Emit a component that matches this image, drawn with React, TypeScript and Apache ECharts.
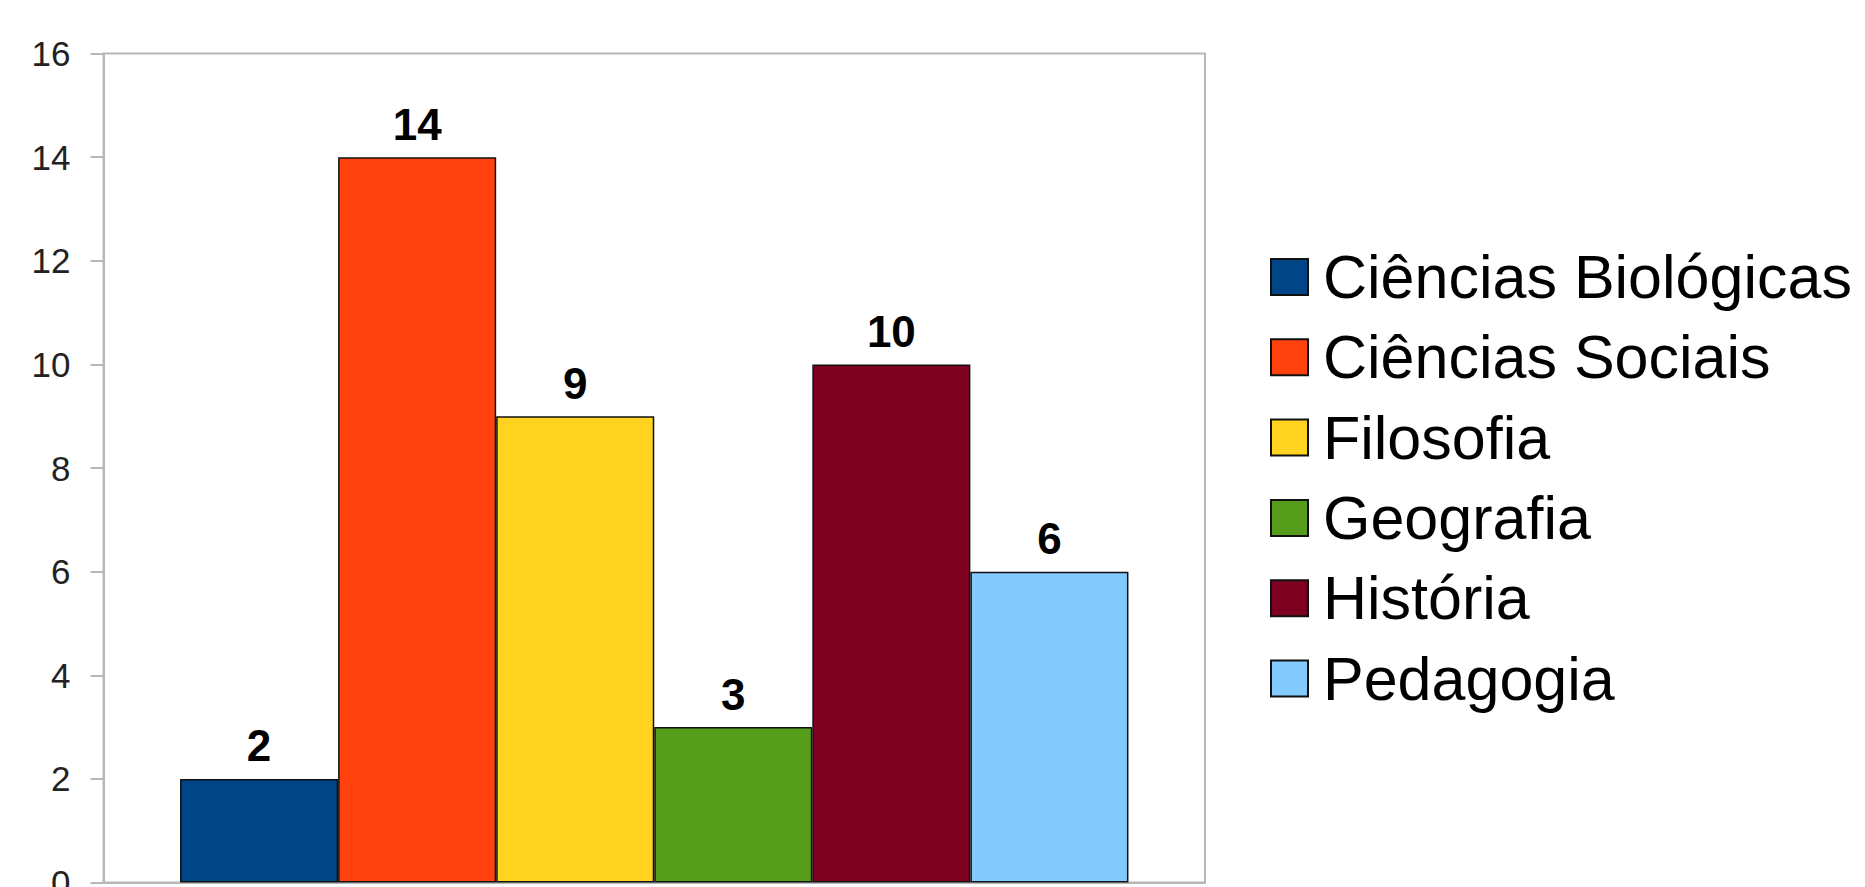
import React, { useEffect, useRef } from "react";
import * as echarts from "echarts";

const categories = [""];
const seriesNames = [
  "Ciências Biológicas",
  "Ciências Sociais",
  "Filosofia",
  "Geografia",
  "História",
  "Pedagogia",
];
const seriesValues = [2, 14, 9, 3, 10, 6];
const seriesColors = ["#004586", "#ff420e", "#ffd320", "#579d1c", "#7e0021", "#83caff"];
const yMin = 0;
const yMax = 16;
const yInterval = 2;

export default function App() {
  const ref = useRef<HTMLDivElement>(null);
  useEffect(() => {
    if (!ref.current) return;
    const chart = echarts.init(ref.current, undefined, { renderer: "svg" });
    chart.setOption({
      animation: false,
      backgroundColor: "#ffffff",
      grid: {
        left: 103.5,
        right: 660,
        top: 53.5,
        bottom: 8,
        show: true,
        borderColor: "#b8b8b8",
        borderWidth: 2,
        backgroundColor: "transparent",
      },
      legend: {
        orient: "vertical",
        left: 1265,
        top: 241,
        itemWidth: 37,
        itemHeight: 36,
        itemGap: 18.3,
        icon: "rect",
        textStyle: {
          fontFamily: "Liberation Sans, Arial, sans-serif",
          fontSize: 61,
          lineHeight: 62,
          color: "#000",
          padding: [0, 0, 0, 10],
        },
        data: seriesNames,
      },
      xAxis: {
        type: "category",
        data: categories,
        axisLine: { lineStyle: { color: "#b8b8b8", width: 2 } },
        axisTick: { show: false },
        axisLabel: { show: false },
      },
      yAxis: {
        type: "value",
        min: yMin,
        max: yMax,
        interval: yInterval,
        splitLine: { show: false },
        axisLine: { show: true, lineStyle: { color: "#b8b8b8", width: 2 } },
        axisTick: { show: true, length: 13, lineStyle: { color: "#b8b8b8", width: 2 } },
        axisLabel: {
          margin: 33,
          fontFamily: "Liberation Sans, Arial, sans-serif",
          fontSize: 35,
          color: "#222",
          padding: [0, 0, 8, 0],
        },
      },
      series: seriesNames.map((name, i) => ({
        name,
        type: "bar",
        data: [seriesValues[i]],
        barGap: "0%",
        barCategoryGap: "13.9%",
        itemStyle: { color: seriesColors[i], borderColor: "#111", borderWidth: 1.5 },
        label: {
          show: true,
          position: "top",
          distance: 11,
          fontFamily: "Liberation Sans, Arial, sans-serif",
          fontWeight: "bold",
          fontSize: 44,
          color: "#000",
        },
      })),
    });
    return () => chart.dispose();
  }, []);
  return (
    <div style={{ position: "fixed", left: 0, top: 0, width: 1865, height: 887, overflow: "hidden", background: "#fff" }}>
      <div ref={ref} style={{ width: 1865, height: 900 }} />
    </div>
  );
}
